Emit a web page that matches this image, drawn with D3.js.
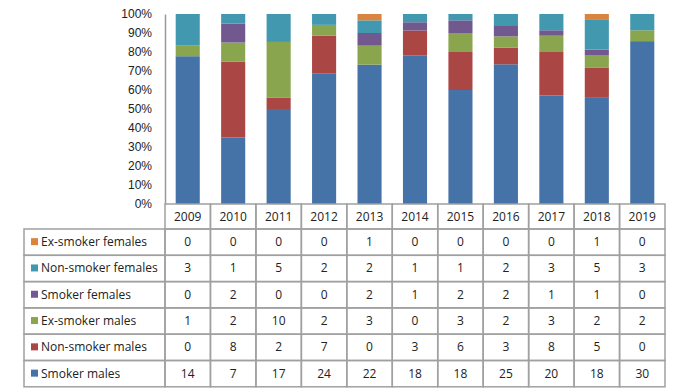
<!DOCTYPE html>
<html>
<head>
<meta charset="utf-8">
<script src="https://cdn.jsdelivr.net/npm/d3@7"></script>
<style>
  body { margin: 0; background: #fff; }
  svg { font-family: "Open Sans", "Noto Sans", sans-serif; }
</style>
</head>
<body>
<div id="chart"></div>
<script>
// Data
const years = ["2009", "2010", "2011", "2012", "2013", "2014", "2015", "2016", "2017", "2018", "2019"];
const seriesNames = ["Smoker males", "Non-smoker males", "Ex-smoker males", "Smoker females", "Non-smoker females", "Ex-smoker females"];
const smokerMales = [14, 7, 17, 24, 22, 18, 18, 25, 20, 18, 30];
const nonSmokerMales = [0, 8, 2, 7, 0, 3, 6, 3, 8, 5, 0];
const exSmokerMales = [1, 2, 10, 2, 3, 0, 3, 2, 3, 2, 2];
const smokerFemales = [0, 2, 0, 0, 2, 1, 2, 2, 1, 1, 0];
const nonSmokerFemales = [3, 1, 5, 2, 2, 1, 1, 2, 3, 5, 3];
const exSmokerFemales = [0, 0, 0, 0, 1, 0, 0, 0, 0, 1, 0];
const tickLabels = ["0%", "10%", "20%", "30%", "40%", "50%", "60%", "70%", "80%", "90%", "100%"];

const seriesValues = [smokerMales, nonSmokerMales, exSmokerMales, smokerFemales, nonSmokerFemales, exSmokerFemales];
const colors = ["#4572A7", "#AA4643", "#89A54E", "#71588F", "#4198AF", "#DB843D"];

const width = 676, height = 390;
const plotLeft = 165, plotRight = 665, plotTop = 14, plotBottom = 204;
const tableLeft = 24, headerH = 25, rowH = 26.3;

const svg = d3.select("#chart").append("svg")
  .attr("width", width)
  .attr("height", height);

// Build rows for the stack
const rows = years.map((yr, i) => {
  const r = { year: yr };
  seriesNames.forEach((s, j) => { r[s] = seriesValues[j][i]; });
  return r;
});

const stacked = d3.stack()
  .keys(seriesNames)
  .offset(d3.stackOffsetExpand)(rows);

const x = d3.scaleBand().domain(years).range([plotLeft, plotRight]).paddingInner(0.47).paddingOuter(0.235);
const xCol = d3.scaleBand().domain(years).range([plotLeft, plotRight]);
const y = d3.scaleLinear().domain([0, 1]).range([plotBottom, plotTop]);
const color = d3.scaleOrdinal().domain(seriesNames).range(colors);

// Bars
svg.append("g")
  .selectAll("g")
  .data(stacked)
  .join("g")
  .attr("fill", d => color(d.key))
  .selectAll("rect")
  .data(d => d)
  .join("rect")
  .attr("x", d => x(d.data.year))
  .attr("width", x.bandwidth())
  .attr("y", d => y(d[1]))
  .attr("height", d => y(d[0]) - y(d[1]));

// Y axis
const yAxis = d3.axisLeft(y)
  .tickValues(d3.range(0, 1.01, 0.1))
  .tickFormat((d, i) => tickLabels[i])
  .tickSize(0)
  .tickPadding(13);

const ya = svg.append("g")
  .attr("transform", `translate(${plotLeft},0)`)
  .call(yAxis);
ya.select(".domain").attr("stroke", "#999").attr("stroke-width", 1.5);
ya.selectAll("text").attr("font-size", 12).attr("fill", "#222");

// Data table
const gridColor = "#a0a0a0";
const table = svg.append("g");

// header row with years
years.forEach(yr => {
  table.append("rect")
    .attr("x", xCol(yr)).attr("y", plotBottom)
    .attr("width", xCol.bandwidth()).attr("height", headerH)
    .attr("fill", "none").attr("stroke", gridColor).attr("stroke-width", 1.5);
  table.append("text")
    .attr("x", xCol(yr) + xCol.bandwidth() / 2)
    .attr("y", plotBottom + headerH / 2 + 4.5)
    .attr("text-anchor", "middle")
    .attr("font-size", 12).attr("fill", "#222")
    .text(yr);
});

// series rows, top row is the last series
const tableOrder = seriesNames.slice().reverse();
tableOrder.forEach((name, r) => {
  const j = seriesNames.indexOf(name);
  const ry = plotBottom + headerH + r * rowH;
  table.append("rect")
    .attr("x", tableLeft).attr("y", ry)
    .attr("width", plotLeft - tableLeft).attr("height", rowH)
    .attr("fill", "none").attr("stroke", gridColor).attr("stroke-width", 1.5);
  table.append("rect")
    .attr("x", tableLeft + 7).attr("y", ry + rowH / 2 - 4)
    .attr("width", 7).attr("height", 7)
    .attr("fill", color(name));
  table.append("text")
    .attr("x", tableLeft + 17)
    .attr("y", ry + rowH / 2 + 4)
    .attr("font-size", 12).attr("fill", "#222")
    .text(name);
  years.forEach((yr, i) => {
    table.append("rect")
      .attr("x", xCol(yr)).attr("y", ry)
      .attr("width", xCol.bandwidth()).attr("height", rowH)
      .attr("fill", "none").attr("stroke", gridColor).attr("stroke-width", 1.5);
    table.append("text")
      .attr("x", xCol(yr) + xCol.bandwidth() / 2)
      .attr("y", ry + rowH / 2 + 4)
      .attr("text-anchor", "middle")
      .attr("font-size", 12).attr("fill", "#222")
      .text(seriesValues[j][i]);
  });
});
</script>
</body>
</html>
